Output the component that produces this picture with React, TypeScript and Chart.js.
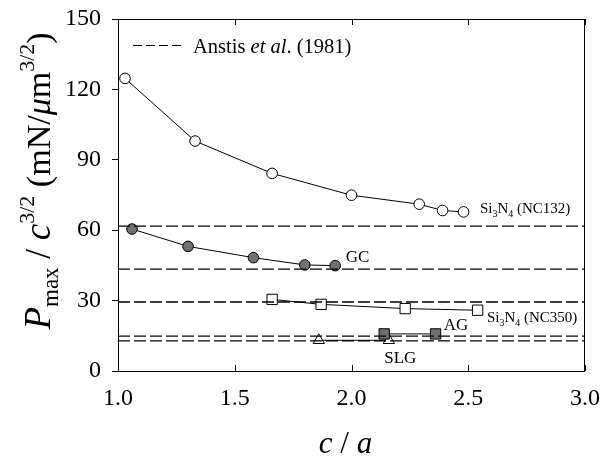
import React, { useEffect, useRef } from "react";
import { Chart, registerables } from "chart.js";

Chart.register(...registerables);

const nc132X = [1.03, 1.33, 1.66, 2.0, 2.29, 2.39, 2.48];
const nc132Y = [124.7, 98.0, 84.2, 74.9, 71.1, 68.4, 67.8];
const gcX = [1.06, 1.3, 1.58, 1.8, 1.93];
const gcY = [60.5, 53.1, 48.3, 45.2, 44.9];
const nc350X = [1.66, 1.87, 2.23, 2.54];
const nc350Y = [30.5, 28.4, 26.6, 25.9];
const agX = [2.14, 2.36];
const agY = [15.8, 15.8];
const slgX = [1.86, 2.16];
const slgY = [13.1, 13.1];
const anstisY = [61.7, 43.4, 29.4, 14.9, 12.8];
const xRange = [1.0, 3.0];
const yRange = [0, 150];
const xTickValues = [1.0, 1.5, 2.0, 2.5, 3.0];

const labelNames = ["NC132", "GC", "NC350", "AG", "SLG"];
const labelX = [2.55, 1.975, 2.58, 2.395, 2.14];
const labelY = [69.7, 48.8, 23.2, 19.7, 5.6];

const SERIF = "'Liberation Serif', 'Times New Roman', serif";
const GRAY = "#707070";

type Piece = { t: string; size: number; italic?: boolean; shift?: number };

function measureRich(ctx: CanvasRenderingContext2D, pieces: Piece[]) {
  let w = 0;
  for (const p of pieces) {
    ctx.font = `${p.italic ? "italic " : ""}${p.size}px ${SERIF}`;
    w += ctx.measureText(p.t).width;
  }
  return w;
}

function drawRich(ctx: CanvasRenderingContext2D, pieces: Piece[], x: number, y: number, align: "left" | "center") {
  const w = measureRich(ctx, pieces);
  let cx = align === "center" ? x - w / 2 : x;
  ctx.textAlign = "left";
  ctx.textBaseline = "alphabetic";
  ctx.fillStyle = "#000";
  for (const p of pieces) {
    ctx.font = `${p.italic ? "italic " : ""}${p.size}px ${SERIF}`;
    ctx.fillText(p.t, cx, y + (p.shift || 0));
    cx += ctx.measureText(p.t).width;
  }
}

function si3n4(name: string): Piece[] {
  return [
    { t: "Si", size: 15 },
    { t: "3", size: 10, shift: 4 },
    { t: "N", size: 15 },
    { t: "4", size: 10, shift: 4 },
    { t: ` (${name})`, size: 15 },
  ];
}

function labelPieces(name: string): Piece[] {
  if (name.startsWith("NC")) return si3n4(name);
  return [{ t: name, size: 17 }];
}

const decorPlugin = {
  id: "decor",
  afterDraw(chart: any) {
    const ctx: CanvasRenderingContext2D = chart.ctx;
    const { left, right, top, bottom } = chart.chartArea;
    const xs = chart.scales.x;
    const ys = chart.scales.y;
    ctx.save();
    ctx.strokeStyle = "#000";
    ctx.lineWidth = 1;
    ctx.setLineDash([]);
    ctx.strokeRect(left + 0.5, top + 0.5, right - left - 1, bottom - top);
    ctx.beginPath();
    for (const v of xTickValues) {
      const px = Math.round(xs.getPixelForValue(v)) + 0.5;
      ctx.moveTo(px, bottom);
      ctx.lineTo(px, bottom - 6);
      ctx.moveTo(px, top);
      ctx.lineTo(px, top + 6);
    }
    ctx.stroke();

    const ly = top + 26.5;
    ctx.beginPath();
    ctx.setLineDash([9, 4]);
    ctx.moveTo(left + 15, ly);
    ctx.lineTo(left + 63, ly);
    ctx.stroke();
    ctx.setLineDash([]);
    drawRich(
      ctx,
      [
        { t: "Anstis ", size: 20.5 },
        { t: "et al", size: 20.5, italic: true },
        { t: ". (1981)", size: 20.5 },
      ],
      left + 75,
      ly + 7,
      "left"
    );

    for (let i = 0; i < labelNames.length; i++) {
      const px = xs.getPixelForValue(labelX[i]);
      const py = ys.getPixelForValue(labelY[i]);
      drawRich(ctx, labelPieces(labelNames[i]), px, py + 5.5, "left");
    }

    drawRich(
      ctx,
      [
        { t: "c", size: 31, italic: true },
        { t: " / ", size: 31 },
        { t: "a", size: 31, italic: true },
      ],
      (left + right) / 2 - 6,
      453,
      "center"
    );

    const yt: Piece[] = [
      { t: "P", size: 37, italic: true },
      { t: "max", size: 23, shift: 8 },
      { t: " / ", size: 35 },
      { t: "c", size: 37, italic: true },
      { t: "3/2", size: 22, shift: -16 },
      { t: " (mN/", size: 34 },
      { t: "μ", size: 34, italic: true },
      { t: "m", size: 34 },
      { t: "3/2", size: 22, shift: -16 },
      { t: ")", size: 34 },
    ];
    ctx.translate(50, 181);
    ctx.rotate(-Math.PI / 2);
    drawRich(ctx, yt, 0, 0, "center");
    ctx.restore();
  },
};

function pts(xs: number[], ys: number[]) {
  return xs.map((x, i) => ({ x, y: ys[i] }));
}

export default function App() {
  const ref = useRef<HTMLCanvasElement>(null);
  useEffect(() => {
    if (!ref.current) return;
    const series = (data: any, style: string, fill: string, radius: number) => ({
      data,
      showLine: true,
      borderColor: "#000",
      borderWidth: 1,
      pointStyle: style,
      pointRadius: radius,
      pointBackgroundColor: fill,
      pointBorderColor: "#000",
      pointBorderWidth: 1,
      fill: false,
    });
    const anstis = anstisY.map((v) => ({
      data: [
        { x: xRange[0], y: v },
        { x: xRange[1], y: v },
      ],
      showLine: true,
      borderColor: "#000",
      borderWidth: 1.3,
      borderDash: [12, 4],
      pointRadius: 0,
      fill: false,
    }));
    const chart = new Chart(ref.current, {
      type: "scatter",
      data: {
        datasets: [
          ...anstis,
          series(pts(nc132X, nc132Y), "circle", "#fff", 5.3),
          series(pts(gcX, gcY), "circle", GRAY, 5.3),
          series(pts(nc350X, nc350Y), "rect", "#fff", 7.3),
          series(pts(agX, agY), "rect", GRAY, 7.3),
          series(pts(slgX, slgY), "triangle", "#fff", 6.5),
        ] as any,
      },
      options: {
        animation: false,
        responsive: false,
        layout: { padding: { top: 19, right: 28, left: 0, bottom: 0 } },
        plugins: { legend: { display: false }, tooltip: { enabled: false } },
        scales: {
          x: {
            type: "linear",
            min: xRange[0],
            max: xRange[1],
            afterFit: (s: any) => {
              s.height = 88;
            },
            afterBuildTicks: (s: any) => {
              s.ticks = xTickValues.map((v) => ({ value: v }));
            },
            grid: { display: false, drawTicks: false },
            border: { display: false },
            ticks: {
              padding: 16,
              color: "#000",
              font: { family: SERIF, size: 24, lineHeight: 1 },
              callback: (v: any) => Number(v).toFixed(1),
            },
          },
          y: {
            type: "linear",
            min: yRange[0],
            max: yRange[1],
            afterFit: (s: any) => {
              s.width = 118;
            },
            ticks: {
              stepSize: 30,
              padding: 11,
              color: "#000",
              font: { family: SERIF, size: 24, lineHeight: 0.66 },
            },
            grid: { drawOnChartArea: false, tickLength: 6, color: "#000" },
            border: { display: false },
          },
        },
      },
      plugins: [decorPlugin],
    });
    return () => chart.destroy();
  }, []);
  return (
    <div style={{ position: "absolute", left: 0, top: 0, width: 616, height: 459 }}>
      <canvas ref={ref} width={616} height={459} style={{ display: "block" }} />
    </div>
  );
}
